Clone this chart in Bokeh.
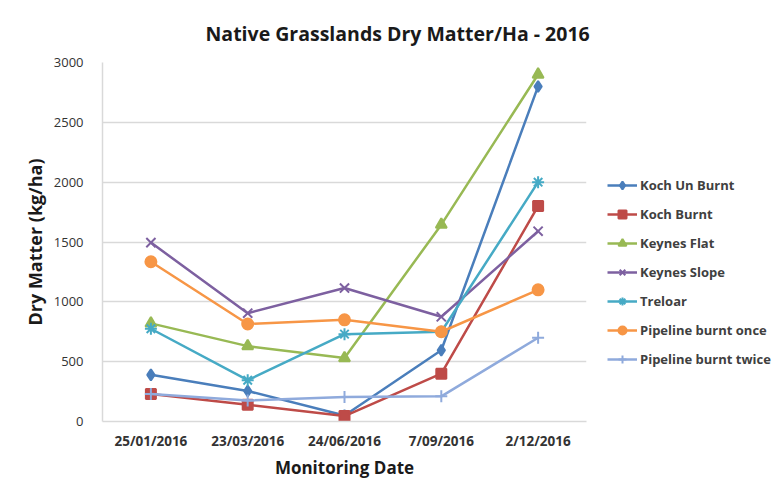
from bokeh.plotting import figure
from bokeh.models import Legend, LegendItem, Title, FactorRange, SingleIntervalTicker
from bokeh.embed import file_html
from bokeh.resources import INLINE

dates = ["25/01/2016", "23/03/2016", "24/06/2016", "7/09/2016", "2/12/2016"]

koch_un_burnt = [390, 255, 50, 595, 2800]
koch_burnt = [230, 140, 45, 400, 1800]
keynes_flat = [820, 630, 530, 1645, 2900]
keynes_slope = [1495, 905, 1115, 875, 1590]
treloar = [775, 345, 730, 750, 2000]
pipeline_once = [1335, 815, 850, 750, 1100]
pipeline_twice = [230, 175, 205, 210, 700]

series_names = ["Koch Un Burnt", "Koch Burnt", "Keynes Flat", "Keynes Slope",
                "Treloar", "Pipeline burnt once", "Pipeline burnt twice"]
series_values = [koch_un_burnt, koch_burnt, keynes_flat, keynes_slope,
                 treloar, pipeline_once, pipeline_twice]
colors = ["#4A7EBB", "#BE4B48", "#98B954", "#7D60A0", "#46AAC5", "#F79646", "#8FAADC"]
markers = ["diamond", "square", "triangle", "x", "asterisk", "circle", "cross"]
sizes = [11, 10, 11, 13, 12, 11, 12]

FONT = "Open Sans"

p = figure(x_range=FactorRange(*dates), y_range=(0, 3000),
           width=766, height=483, frame_width=484, frame_height=359,
           min_border_left=102, min_border_top=62, min_border_bottom=62, min_border_right=180,
           output_backend="svg", toolbar_location=None)

p.x_range.factor_padding = 0
p.x_range.range_padding = 0

items = []
for name, vals, c, m, s in zip(series_names, series_values, colors, markers, sizes):
    r1 = p.line(dates, vals, line_color=c, line_width=2.5)
    r2 = p.scatter(dates, vals, marker=m, size=s, fill_color=c, line_color=c, line_width=2)
    items.append(LegendItem(label=name, renderers=[r1, r2]))

legend = Legend(items=items, location=(21, 52), border_line_color=None,
                background_fill_alpha=0, label_text_font=FONT, label_text_font_size="13px",
                label_text_font_style="bold", label_text_color="#404040",
                glyph_width=30, glyph_height=20, label_height=20, spacing=9,
                label_standoff=3, padding=2, margin=0)
p.add_layout(legend, "right")

p.title = Title(text="Native Grasslands Dry Matter/Ha - 2016", align="left",
                text_font=FONT, text_font_size="19.5px", text_font_style="bold",
                text_color="#1a1a1a", offset=103, standoff=31)

p.yaxis.ticker = SingleIntervalTicker(interval=500)
p.ygrid.ticker = SingleIntervalTicker(interval=500)
p.ygrid.grid_line_color = "#D9D9D9"
p.ygrid.grid_line_width = 1.5
p.xgrid.grid_line_color = None
p.outline_line_color = None

for ax in (p.xaxis, p.yaxis):
    ax.major_tick_line_color = None
    ax.minor_tick_line_color = None
    ax.axis_line_color = "#D9D9D9"
    ax.axis_line_width = 1.5
    ax.major_label_text_font = FONT
    ax.major_label_text_color = "#333333"
    ax.axis_label_text_font = FONT
    ax.axis_label_text_font_style = "bold"
    ax.axis_label_text_color = "#1a1a1a"

p.xaxis.axis_label_text_font_size = "17px"
p.yaxis.axis_label_text_font_size = "18px"
p.xaxis.major_label_text_font_size = "13.5px"
p.yaxis.major_label_text_font_size = "13px"
p.xaxis.major_label_text_font_style = "bold"
p.yaxis.major_label_standoff = 13
p.xaxis.major_label_standoff = 4
p.xaxis.axis_label = "Monitoring Date"
p.yaxis.axis_label = "Dry Matter (kg/ha)"
p.yaxis.axis_label_standoff = 4
p.xaxis.axis_label_standoff = 3

open("out.html", "w").write(file_html(p, INLINE))
